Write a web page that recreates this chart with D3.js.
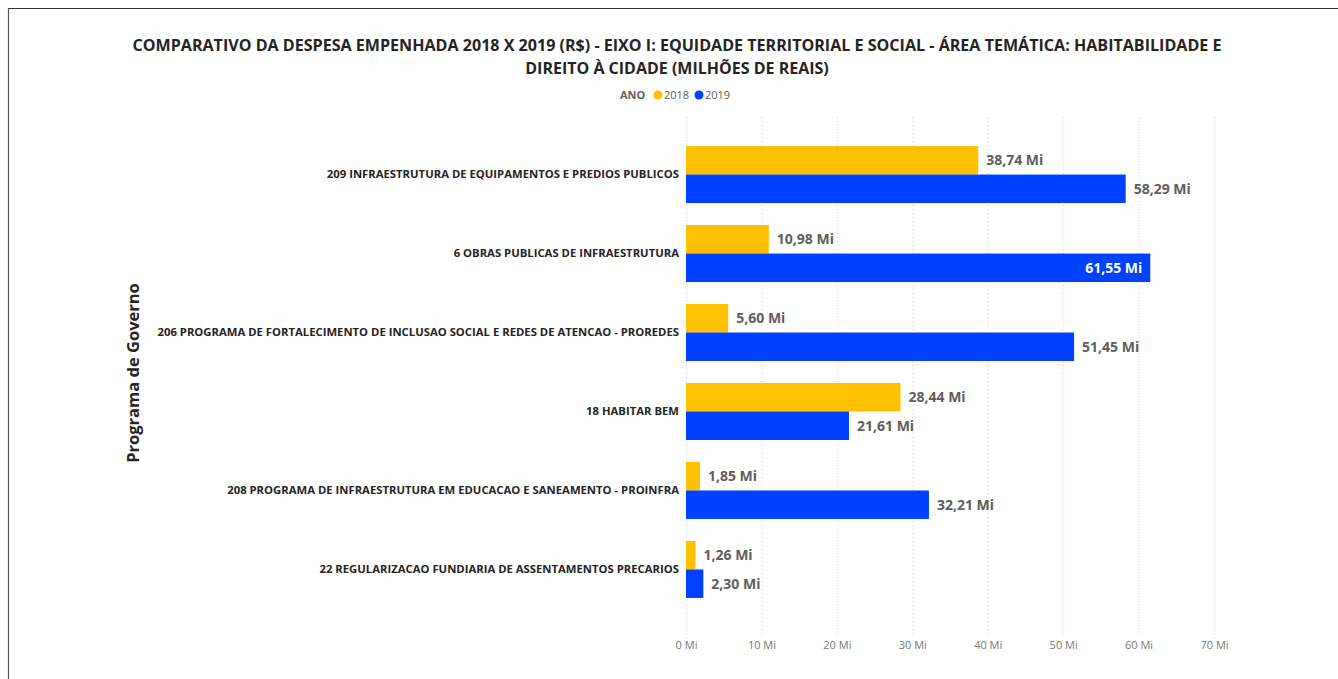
<!DOCTYPE html>
<html><head><meta charset="utf-8">
<script src="https://cdn.jsdelivr.net/npm/d3@7"></script>
<style>
html,body{margin:0;padding:0;background:#fff;}
svg{display:block;font-family:"Open Sans","Noto Sans",sans-serif;}
</style></head>
<body>
<svg id="c" width="1338" height="679"></svg>
<script>
const categories = [
  "209 INFRAESTRUTURA DE EQUIPAMENTOS E PREDIOS PUBLICOS",
  "6 OBRAS PUBLICAS DE INFRAESTRUTURA",
  "206 PROGRAMA DE FORTALECIMENTO DE INCLUSAO SOCIAL E REDES DE ATENCAO - PROREDES",
  "18 HABITAR BEM",
  "208 PROGRAMA DE INFRAESTRUTURA EM EDUCACAO E SANEAMENTO - PROINFRA",
  "22 REGULARIZACAO FUNDIARIA DE ASSENTAMENTOS PRECARIOS"
];
const years = ["2018", "2019"];
const values2018 = [38.74, 10.98, 5.60, 28.44, 1.85, 1.26];
const values2019 = [58.29, 61.55, 51.45, 21.61, 32.21, 2.30];
const xTicks = [0, 10, 20, 30, 40, 50, 60, 70];
const titleLines = [
  "COMPARATIVO DA DESPESA EMPENHADA 2018 X 2019 (R$) - EIXO I: EQUIDADE TERRITORIAL E SOCIAL - ÁREA TEMÁTICA: HABITABILIDADE E",
  "DIREITO À CIDADE (MILHÕES DE REAIS)"
];
const colors = ["#FFC000", "#0040FF"];

const svg = d3.select("#c");
// frame lines
svg.append("line").attr("x1",8).attr("x2",1338).attr("y1",8.5).attr("y2",8.5).attr("stroke","#333").attr("stroke-width",1.2);
svg.append("line").attr("x1",8.5).attr("x2",8.5).attr("y1",8).attr("y2",679).attr("stroke","#555").attr("stroke-width",1.2);

// title
svg.append("g").selectAll("text").data(titleLines).join("text")
  .attr("x", 677).attr("y",(d,i)=>51+i*23).attr("text-anchor","middle")
  .attr("font-size",16).attr("font-weight",700).attr("fill","#252423")
  .attr("textLength",(d,i)=> i===0 ? 1089 : null).attr("lengthAdjust","spacingAndGlyphs")
  .text(d=>d);

// legend
const lg = svg.append("g").attr("font-size",11);
lg.append("text").attr("x",620).attr("y",99).attr("font-weight",700).attr("fill","#605E5C").text("ANO");
const legX = [658, 699];
years.forEach((y,i)=>{
  lg.append("circle").attr("cx",legX[i]).attr("cy",95).attr("r",4.5).attr("fill",colors[i]);
  lg.append("text").attr("x",legX[i]+6).attr("y",99).attr("fill","#605E5C").text(y);
});

const x = d3.scaleLinear().domain([0,70]).range([686,1214]);
const y = d3.scaleBand().domain(categories).range([135,609]).paddingInner(22/79).paddingOuter(0.14);
const ySub = d3.scaleBand().domain(years).range([0, y.bandwidth()]);

// gridlines
svg.append("g").selectAll("line").data(xTicks).join("line")
  .attr("x1",d=>x(d)+0.5).attr("x2",d=>x(d)+0.5).attr("y1",117).attr("y2",635)
  .attr("stroke","#C8C8C8").attr("stroke-width",1).attr("stroke-dasharray","1,3");

// x axis
const xAxis = d3.axisBottom(x).tickValues(xTicks).tickFormat(d=>d+" Mi").tickSize(0).tickPadding(0);
const gx = svg.append("g").attr("transform","translate(0,637)").call(xAxis);
gx.select(".domain").remove();
gx.selectAll("text").attr("font-size",11).attr("fill","#777").attr("font-family","'Open Sans','Noto Sans',sans-serif").attr("dy","0.71em").attr("y",4);

// y axis
const yAxis = d3.axisLeft(y).tickSize(0).tickPadding(0);
const gy = svg.append("g").attr("transform","translate(679,0)").call(yAxis);
gy.select(".domain").remove();
gy.selectAll("text").attr("font-size",11.3).attr("font-weight",700).attr("fill","#252423").attr("font-family","'Open Sans','Noto Sans',sans-serif");

// y title
svg.append("text").attr("transform","translate(139,373) rotate(-90)").attr("text-anchor","middle")
  .attr("font-size",16.5).attr("font-weight",700).attr("fill","#252423").text("Programa de Governo");

// bars
const rows = [];
categories.forEach((c,i)=>{
  rows.push({cat:c, year:"2018", v:values2018[i], ci:0});
  rows.push({cat:c, year:"2019", v:values2019[i], ci:1});
});
svg.append("g").selectAll("rect").data(rows).join("rect")
  .attr("x",x(0)).attr("y",d=>y(d.cat)+ySub(d.year))
  .attr("width",d=>x(d.v)-x(0)).attr("height",ySub.bandwidth())
  .attr("fill",d=>colors[d.ci]);

// labels
const fmt = v => v.toFixed(2).replace(".",",") + " Mi";
svg.append("g").selectAll("text").data(rows).join("text")
  .each(function(d){
    const t = d3.select(this);
    const inside = x(d.v) + 66 > x(70);
    t.attr("x", inside ? x(d.v)-8 : x(d.v)+8)
     .attr("text-anchor", inside ? "end" : "start")
     .attr("fill", inside ? "#fff" : "#605E5C");
  })
  .attr("y",d=>y(d.cat)+ySub(d.year)+ySub.bandwidth()/2)
  .attr("dy","0.35em").attr("font-size",14).attr("font-weight",700)
  .text(d=>fmt(d.v));
</script>
</body></html>
